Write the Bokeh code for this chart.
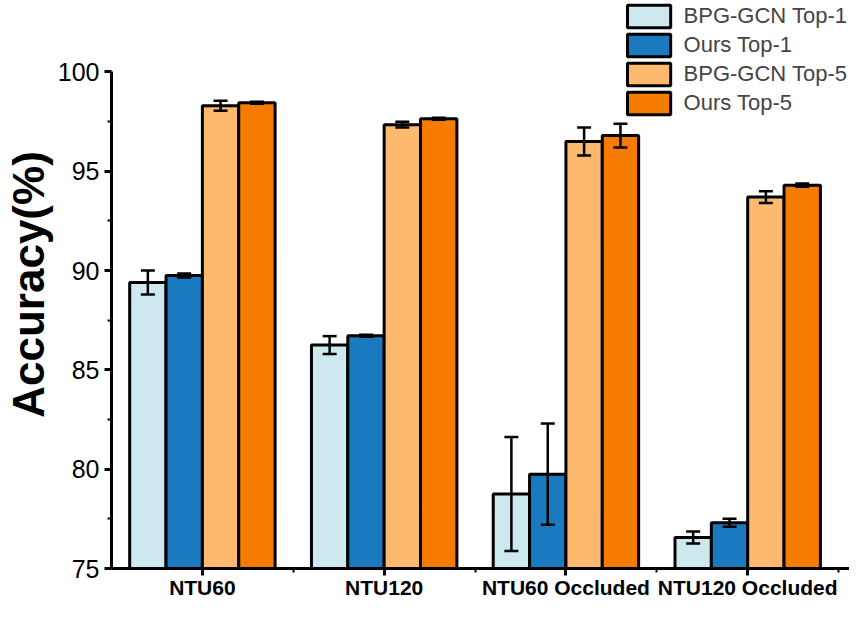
from bokeh.plotting import figure
from bokeh.models import Range1d, FixedTicker, Legend, LegendItem, Whisker, ColumnDataSource
from bokeh.embed import file_html
from bokeh.resources import INLINE

groups = ["NTU60", "NTU120", "NTU60 Occluded", "NTU120 Occluded"]
series = ["BPG-GCN Top-1", "Ours Top-1", "BPG-GCN Top-5", "Ours Top-5"]
colors = ["#cde9ef", "#1a7abf", "#fdb96e", "#f57c00"]
values = [
    [89.4, 86.25, 78.75, 76.56],
    [89.75, 86.72, 79.75, 77.3],
    [98.3, 97.35, 96.5, 93.7],
    [98.45, 97.65, 96.8, 94.3],
]
errors = [
    [0.6, 0.45, 2.87, 0.3],
    [0.1, 0.05, 2.55, 0.2],
    [0.25, 0.15, 0.7, 0.3],
    [0.05, 0.05, 0.6, 0.08],
]
offsets = [-0.3, -0.1, 0.1, 0.3]

p = figure(width=849, height=601, output_backend="svg", toolbar_location=None,
           x_range=Range1d(0.5, 4.56), y_range=Range1d(75, 103.6),
           min_border_left=87, min_border_right=0, min_border_top=0, min_border_bottom=31)
p.outline_line_color = None
p.grid.visible = False

items = []
for i, name in enumerate(series):
    xs = [g + 1 + offsets[i] for g in range(len(groups))]
    src = ColumnDataSource(dict(x=xs, top=values[i],
                                lo=[v - e for v, e in zip(values[i], errors[i])],
                                hi=[v + e for v, e in zip(values[i], errors[i])]))
    r = p.vbar(x="x", top="top", bottom=75, width=0.2, source=src,
               fill_color=colors[i], line_color="black", line_width=3)
    w = Whisker(base="x", lower="lo", upper="hi", source=src, line_width=2.5,
                line_color="black", level="overlay")
    w.upper_head.size = 14
    w.lower_head.size = 14
    w.upper_head.line_width = 2.5
    w.lower_head.line_width = 2.5
    p.add_layout(w)
    items.append(LegendItem(label=name, renderers=[r]))

legend = Legend(items=items, location="top_right", background_fill_alpha=0,
                border_line_color=None, label_text_font="Liberation Sans",
                label_text_font_size="22px", glyph_width=54, glyph_height=28,
                spacing=1, padding=0, margin=2, label_standoff=8)
p.add_layout(legend)

p.yaxis.bounds = (75, 100)
p.yaxis.ticker = FixedTicker(ticks=[75, 80, 85, 90, 95, 100],
                             minor_ticks=[77.5, 82.5, 87.5, 92.5, 97.5])
p.yaxis.axis_label = "Accuracy(%)"
p.yaxis.axis_label_text_font = "Liberation Sans"
p.yaxis.axis_label_text_font_style = "bold"
p.yaxis.axis_label_text_font_size = "44px"
p.yaxis.axis_label_text_color = "black"
p.yaxis.axis_label_standoff = 2
p.yaxis.major_label_text_font = "Liberation Sans"
p.yaxis.major_label_text_font_size = "25px"

p.xaxis.ticker = FixedTicker(ticks=[1, 2, 3, 4], minor_ticks=[1.5, 2.5, 3.5, 4.5])
p.xaxis.major_label_overrides = {1: groups[0], 2: groups[1], 3: groups[2], 4: groups[3]}
p.xaxis.major_label_text_font = "Liberation Sans"
p.xaxis.major_label_text_font_style = "bold"
p.xaxis.major_label_text_font_size = "21px"
p.xaxis.major_label_standoff = 0

for ax in (p.xaxis, p.yaxis):
    ax.axis_line_width = 3
    ax.major_tick_line_width = 3
    ax.minor_tick_line_width = 2
    ax.major_tick_out = 7
    ax.major_tick_in = 0
    ax.minor_tick_out = 4
    ax.minor_tick_in = 0
    ax.major_label_text_color = "black"

open("out.html", "w").write(file_html(p, INLINE))
